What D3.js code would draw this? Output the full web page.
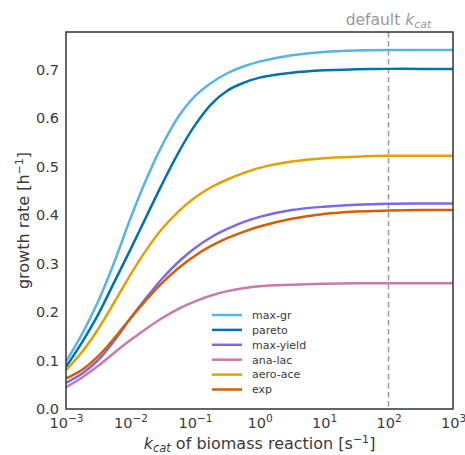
<!DOCTYPE html>
<html>
<head>
<meta charset="utf-8">
<script src="https://cdn.jsdelivr.net/npm/d3@7/dist/d3.min.js"></script>
<style>
  html, body { margin: 0; padding: 0; background: #fff; }
  svg { display: block; font-family: "DejaVu Sans", sans-serif; }
</style>
</head>
<body>
<svg id="chart" width="465" height="455"></svg>
<script>
// kcat grid of the biomass reaction [1/s]
const kcat = [0.001, 0.00178, 0.00316, 0.00562, 0.01, 0.0178, 0.0316, 0.0562,
              0.1, 0.178, 0.316, 0.562, 1, 3.16, 10, 31.6, 100, 316, 1000];

// growth rate [1/h] for each strategy
const maxGr    = [0.098, 0.155, 0.222, 0.303, 0.393, 0.475, 0.546, 0.604, 0.645, 0.672, 0.692, 0.706, 0.716, 0.729, 0.736, 0.739, 0.740, 0.740, 0.740];
const pareto   = [0.087, 0.138, 0.195, 0.262, 0.329, 0.398, 0.466, 0.530, 0.585, 0.628, 0.656, 0.672, 0.683, 0.693, 0.698, 0.700, 0.701, 0.701, 0.701];
const maxYield = [0.054, 0.073, 0.101, 0.141, 0.187, 0.230, 0.270, 0.304, 0.332, 0.354, 0.371, 0.385, 0.396, 0.410, 0.417, 0.421, 0.423, 0.4235, 0.4235];
const anaLac   = [0.045, 0.065, 0.089, 0.116, 0.142, 0.166, 0.188, 0.207, 0.222, 0.234, 0.243, 0.249, 0.253, 0.256, 0.258, 0.259, 0.259, 0.259, 0.259];
const aeroAce  = [0.080, 0.118, 0.165, 0.220, 0.277, 0.329, 0.373, 0.408, 0.436, 0.457, 0.473, 0.486, 0.497, 0.510, 0.517, 0.520, 0.522, 0.522, 0.522];
const expData  = [0.063, 0.081, 0.109, 0.146, 0.187, 0.226, 0.261, 0.291, 0.316, 0.336, 0.352, 0.365, 0.376, 0.392, 0.402, 0.407, 0.409, 0.410, 0.410];

const seriesNames  = ["max-gr", "pareto", "max-yield", "ana-lac", "aero-ace", "exp"];
const seriesValues = [maxGr, pareto, maxYield, anaLac, aeroAce, expData];
const seriesColors = ["#56B4E9", "#0072B2", "#7B68EE", "#CC79A7", "#E69F00", "#D55E00"];

const xTickValues = [1e-3, 1e-2, 1e-1, 1e0, 1e1, 1e2, 1e3];
const xTickExps   = ["\u22123", "\u22122", "\u22121", "0", "1", "2", "3"];
const yTickValues = [0, 0.1, 0.2, 0.3, 0.4, 0.5, 0.6, 0.7];
const defaultKcat = 100;

const margin = { left: 66, right: 12, top: 32, bottom: 46 };
const W = 465, H = 455;
const svg = d3.select("#chart");

const x = d3.scaleLog().domain([1e-3, 1e3]).range([margin.left, W - margin.right]);
const y = d3.scaleLinear().domain([0, 0.777]).range([H - margin.bottom, margin.top]);

const textColor = "#3a3a3a";

svg.append("defs").append("clipPath").attr("id", "plot-clip")
  .append("rect")
  .attr("x", margin.left).attr("y", margin.top)
  .attr("width", x.range()[1] - x.range()[0])
  .attr("height", y.range()[0] - y.range()[1]);

// y axis labels (no tick marks)
const yAxis = svg.append("g")
  .attr("transform", `translate(${margin.left},0)`)
  .call(d3.axisLeft(y).tickValues(yTickValues).tickFormat(d3.format(".1f")).tickSize(0).tickPadding(7));
yAxis.select(".domain").remove();
yAxis.selectAll("text").attr("font-size", 14.5).attr("fill", textColor)
  .attr("font-family", "DejaVu Sans, sans-serif");

// x axis labels with superscript exponents
const xAxis = svg.append("g")
  .attr("transform", `translate(0,${y.range()[0]})`)
  .call(d3.axisBottom(x).tickValues(xTickValues).tickFormat(() => "").tickSize(0).tickPadding(9));
xAxis.select(".domain").remove();
xAxis.selectAll(".tick text").each(function(d, i) {
  const t = d3.select(this).attr("font-size", 14.5).attr("fill", textColor)
    .attr("font-family", "DejaVu Sans, sans-serif");
  t.text(null);
  t.append("tspan").text("10");
  t.append("tspan").attr("dy", -6).attr("font-size", 10.5).text(xTickExps[i]);
});

// default kcat marker
svg.append("line")
  .attr("x1", x(defaultKcat)).attr("x2", x(defaultKcat))
  .attr("y1", y.range()[1]).attr("y2", y.range()[0])
  .attr("stroke", "#999").attr("stroke-width", 1.5).attr("stroke-dasharray", "5.5,3.5");

const line = d3.line()
  .x((d, i) => x(kcat[i]))
  .y(d => y(d))
  .curve(d3.curveCatmullRom.alpha(0.5));

svg.append("g").attr("clip-path", "url(#plot-clip)")
  .selectAll("path")
  .data(seriesValues)
  .join("path")
  .attr("d", d => line(d))
  .attr("fill", "none")
  .attr("stroke", (d, i) => seriesColors[i])
  .attr("stroke-width", 2.5)
  .attr("stroke-linecap", "butt");

// frame
svg.append("rect")
  .attr("x", margin.left).attr("y", margin.top)
  .attr("width", x.range()[1] - x.range()[0])
  .attr("height", y.range()[0] - y.range()[1])
  .attr("fill", "none").attr("stroke", "#333").attr("stroke-width", 1.5);

// label above the marker
const dl = svg.append("text")
  .attr("x", x(defaultKcat)).attr("y", 25)
  .attr("text-anchor", "middle").attr("font-size", 15.5).attr("fill", "#999");
dl.append("tspan").text("default ");
dl.append("tspan").attr("font-style", "italic").text("k");
dl.append("tspan").attr("font-style", "italic").attr("font-size", 11).attr("dy", 3).text("cat");

// axis titles
const xl = svg.append("text")
  .attr("x", (x.range()[0] + x.range()[1]) / 2).attr("y", 449)
  .attr("text-anchor", "middle").attr("font-size", 16).attr("fill", textColor);
xl.append("tspan").attr("font-style", "italic").text("k");
xl.append("tspan").attr("font-style", "italic").attr("font-size", 11.5).attr("dy", 3).text("cat");
xl.append("tspan").attr("dy", -3).text(" of biomass reaction [s");
xl.append("tspan").attr("dy", -6).attr("font-size", 11).text("\u22121");
xl.append("tspan").attr("dy", 6).text("]");

const yl = svg.append("text")
  .attr("transform", `translate(29,${(y.range()[0] + y.range()[1]) / 2}) rotate(-90)`)
  .attr("text-anchor", "middle").attr("font-size", 16).attr("fill", textColor);
yl.append("tspan").text("growth rate [h");
yl.append("tspan").attr("dy", -6).attr("font-size", 11).text("\u22121");
yl.append("tspan").attr("dy", 6).text("]");

// legend
const legend = svg.append("g").attr("transform", "translate(212,315)");
const rows = legend.selectAll("g").data(seriesNames).join("g")
  .attr("transform", (d, i) => `translate(0,${i * 14.9})`);
rows.append("line").attr("x1", 0).attr("x2", 30).attr("y1", 0).attr("y2", 0)
  .attr("stroke", (d, i) => seriesColors[i]).attr("stroke-width", 2.5);
rows.append("text").attr("x", 40).attr("y", 0).attr("dy", "0.35em")
  .attr("font-size", 11).attr("fill", textColor).text(d => d);
</script>
</body>
</html>
